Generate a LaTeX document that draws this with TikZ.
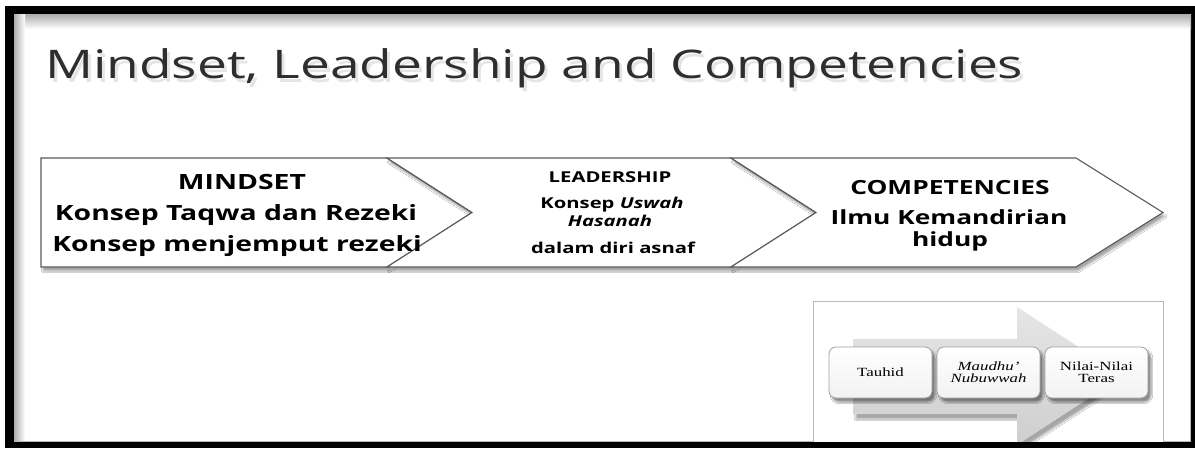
\documentclass[tikz,border=0pt]{standalone}
\usepackage{fontspec}
\usetikzlibrary{shadows.blur}
\newfontfamily\titlefont{Open Sans}[FakeStretch=1.35]
\newfontfamily\labelfont{Open Sans}[FakeStretch=1.35]
\newfontfamily\insetfont{Liberation Serif}[FakeStretch=1.35]

\definecolor{chevline}{HTML}{5A5A5A}

\tikzset{
  chev/.style={draw=chevline, fill=white, line width=1.1pt, line join=miter,
    blur shadow={shadow xshift=2pt, shadow yshift=-4pt, shadow opacity=35, shadow blur steps=6}},
  lblbig/.style={font=\labelfont\bfseries\fontsize{21}{25}\selectfont, inner sep=0pt, anchor=base},
  lblmid/.style={font=\labelfont\bfseries\fontsize{19.5}{23}\selectfont, inner sep=0pt, anchor=base},
  lblsmall/.style={font=\labelfont\bfseries\fontsize{15}{18}\selectfont, inner sep=0pt, anchor=base},
  stagebox/.style={draw=gray!75, rounded corners=7pt, top color=white, bottom color=gray!10,
    line width=0.8pt,
    blur shadow={shadow xshift=3pt, shadow yshift=-4pt, shadow opacity=45, shadow blur steps=6}},
  stagetext/.style={font=\insetfont\fontsize{12.5}{13}\selectfont, align=center, inner sep=0pt},
  titletext/.style={font=\titlefont\fontsize{39.4}{46}\selectfont, inner sep=0pt, anchor=base west}
}

\begin{document}
\begin{tikzpicture}[x=1pt, y=-1pt]
\useasboundingbox (0,0) rectangle (1195,448);

% slide frame
\fill[black] (5,6) rectangle (1195,448);
\fill[white] (14,14) rectangle (1191,442);
\shade[top color=gray!65, bottom color=white] (14,14) rectangle (1191,29);
\shade[left color=gray!65, right color=white] (14,14) rectangle (25,442);
\draw[gray!55, line width=1pt] (1190.5,14) -- (1190.5,442);
\draw[gray!55, line width=1pt] (14,441.5) -- (1191,441.5);

% title with a soft drop shadow
\node[titletext, text=black, opacity=0.10] (tshadow) at (48,82) {Mindset, Leadership and Competencies};
\node[titletext, text=black!82] (title) at (45,78) {Mindset, Leadership and Competencies};

% three chevrons
\path[chev] (41,158) -- (387,158) -- (472,212.5) -- (387,267) -- (41,267) -- cycle;
\path[chev] (387,158) -- (731,158) -- (816,212.5) -- (731,267) -- (387,267) -- (472,212.5) -- cycle;
\path[chev] (731,158) -- (1076,158) -- (1163,212.5) -- (1076,267) -- (731,267) -- (816,212.5) -- cycle;

% chevron texts
\node[lblbig] (mindset) at (242,189) {MINDSET};
\node[lblbig] (taqwa) at (236,220) {Konsep Taqwa dan Rezeki};
\node[lblbig] (jemput) at (237,251) {Konsep menjemput rezeki};

\node[lblsmall] (leader) at (610,182) {LEADERSHIP};
\node[lblsmall] (uswah) at (612,208) {Konsep \textit{Uswah}};
\node[lblsmall] (hasanah) at (610,226) {\textit{Hasanah}};
\node[lblsmall] (asnaf) at (613,253) {dalam diri asnaf};

\node[lblmid] (compet) at (950,194) {COMPETENCIES};
\node[lblmid] (ilmu) at (949,224) {Ilmu Kemandirian};
\node[lblmid] (hidup) at (950,246) {hidup};

% inset figure
\fill[white] (813,301) rectangle (1163,442);
\begin{scope}
  \clip (813,301) rectangle (1163,442);
  \shade[top color=gray!20, bottom color=gray!38,
    blur shadow={shadow xshift=3pt, shadow yshift=-5pt, shadow opacity=35, shadow blur steps=6}]
    (853,339) -- (1017,339) -- (1017,307) -- (1123,376) -- (1017,445) -- (1017,414) -- (853,414) -- cycle;
  \node[stagebox, minimum width=103pt, minimum height=51pt] (tauhid) at (880.5,372.5) {};
  \node[stagebox, minimum width=103pt, minimum height=51pt] (maudhu) at (988.5,372.5) {};
  \node[stagebox, minimum width=103pt, minimum height=51pt] (nilai) at (1096.5,372.5) {};
\end{scope}
\draw[gray!55, line width=0.8pt] (813,442) -- (813,301) -- (1163,301) -- (1163,442);

\node[stagetext] (tauhidtxt) at (tauhid.center) {Tauhid};
\node[stagetext] (maudhutxt) at (maudhu.center) {\textit{Maudhu’}\\[-1pt]\textit{Nubuwwah}};
\node[stagetext] (nilaitxt) at (nilai.center) {Nilai-Nilai\\[-1pt]Teras};

% bottom edge of the frame drawn over the inset
\fill[black] (5,442) rectangle (1195,448);
\end{tikzpicture}
\end{document}
